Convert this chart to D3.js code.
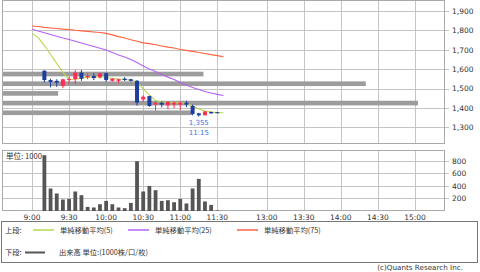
<!DOCTYPE html>
<html>
<head>
  <script src="https://d3js.org/d3.v7.min.js"></script>
  <style>
    body { margin: 0; background: #fff; }
    text { font-family: "DejaVu Sans", sans-serif; fill: #333; }
    .jp { font-family: "Noto Sans CJK JP", sans-serif; }
  </style>
</head>
<body>
  <div id="chart"></div>
  <script>
const width = 480;
const height = 272;

// 5分足 (9:10 - 11:30)
const candleTimes = ["9:10","9:15","9:20","9:25","9:30","9:35","9:40","9:45","9:50","9:55",
  "10:00","10:05","10:10","10:15","10:20","10:25","10:30","10:35","10:40","10:45",
  "10:50","10:55","11:00","11:05","11:10","11:15","11:20","11:25","11:30"];
const opens  = [1592,1544,1540,1513,1545,1548,1582,1558,1565,1558,1579,1540,1540,1551,1548,1540,1444,1461,1417,1427,1413,1417,1417,1427,1410,1372,1362,1379,1378];
const highs  = [1595,1551,1548,1550,1561,1596,1596,1579,1579,1582,1582,1554,1550,1558,1551,1544,1465,1463,1434,1434,1434,1434,1434,1437,1417,1375,1384,1382,1379];
const lows   = [1532,1506,1509,1502,1523,1524,1540,1548,1544,1551,1535,1536,1527,1539,1536,1412,1430,1406,1386,1403,1393,1399,1390,1404,1362,1355,1362,1370,1373];
const closes = [1544,1534,1530,1548,1549,1582,1551,1565,1554,1579,1544,1551,1548,1544,1540,1427,1458,1410,1427,1417,1431,1427,1427,1417,1369,1362,1382,1372,1375];
const volumes = [890,359,279,183,193,311,252,65,56,108,161,108,56,45,129,794,311,400,332,161,172,140,193,120,359,512,152,97,8];

// 移動平均 (9:00 から 5分ごと)
const ma5  = [1785,1763,1722,1677,1630,1583,1547,1549,1554,1559,1559,1561,1557,1553,1549,1547,1544,1534,1498,1467,1438,1430,1429,1428,1426,1424,1410,1394,1384,1379,1376,1375];
const ma25 = [1806,1797,1788,1779,1770,1761,1753,1744,1735,1726,1717,1708,1699,1686,1673,1663,1650,1635,1616,1601,1588,1572,1559,1547,1531,1518,1505,1495,1485,1477,1470,1464];
const ma75 = [1823,1820,1816,1813,1810,1807,1805,1801,1798,1795,1792,1789,1785,1777,1768,1761,1752,1744,1736,1732,1726,1720,1714,1709,1702,1697,1692,1686,1681,1675,1670,1664];

// 価格帯別出来高
const bandPrices = [1375, 1425, 1475, 1525, 1575];
const bandVolumes = [945, 2070, 275, 1810, 1000];

const xTicks = ["9:00","9:30","10:00","10:30","11:00","11:30","13:00","13:30","14:00","14:30","15:00"];
const priceTicks = [1300, 1400, 1500, 1600, 1700, 1800, 1900];
const volTicks = [200, 400, 600, 800];

const legendItems = [
  { label: "単純移動平均(5)", color: "#b6d94c" },
  { label: "単純移動平均(25)", color: "#b463f0" },
  { label: "単純移動平均(75)", color: "#ff6240" }
];

const plot = { left: 3, right: 444, top: 1, bottom: 143, vTop: 151, vBottom: 211 };

// 時刻 -> 5分スロット (昼休みは詰める)
function slotOf(t) {
  const [h, m] = t.split(":").map(Number);
  const min = h * 60 + m;
  return min <= 690 ? (min - 540) / 5 : 32 + (min - 750) / 5;
}

const x = d3.scaleLinear().domain([-4.7, 66.7]).range([plot.left, plot.right]);
const y = d3.scaleLinear().domain([1219, 1952]).range([plot.bottom, plot.top]);
const yv = d3.scaleLinear().domain([0, 957]).range([plot.vBottom, plot.vTop]);
const xb = d3.scaleLinear().domain([0, 2200]).range([plot.left, plot.right]);

const svg = d3.select("#chart").append("svg")
  .attr("width", width)
  .attr("height", height);

const grid = "#c4c4c4";
const frame = "#aaaaaa";

// ---- 上段 ----
const up = svg.append("g");
up.selectAll(".hg").data(priceTicks).join("line")
  .attr("x1", plot.left).attr("x2", plot.right + 5)
  .attr("y1", d => Math.round(y(d)) + 0.5).attr("y2", d => Math.round(y(d)) + 0.5)
  .attr("stroke", grid);
up.selectAll(".vg").data(xTicks).join("line")
  .attr("x1", d => Math.round(x(slotOf(d))) + 0.5).attr("x2", d => Math.round(x(slotOf(d))) + 0.5)
  .attr("y1", plot.top).attr("y2", plot.bottom)
  .attr("stroke", grid);
up.selectAll(".pl").data(priceTicks).join("text")
  .attr("x", 452).attr("y", d => y(d) + 2.8)
  .attr("font-size", "7.5px")
  .text(d => d3.format(",")(d));

// 価格帯別出来高バー
up.selectAll(".band").data(bandPrices).join("rect")
  .attr("x", plot.left)
  .attr("y", d => y(d + 12))
  .attr("width", (d, i) => xb(bandVolumes[i]) - plot.left)
  .attr("height", d => y(d - 12) - y(d + 12))
  .attr("fill", "#9c9c9c");

up.append("rect")
  .attr("x", plot.left - 0.5).attr("y", plot.top - 0.5)
  .attr("width", plot.right - plot.left + 1).attr("height", plot.bottom - plot.top + 1)
  .attr("fill", "none").attr("stroke", frame);

// 移動平均
[ma5, ma25, ma75].forEach((ma, k) => {
  up.append("path")
    .datum(ma)
    .attr("fill", "none")
    .attr("stroke", legendItems[k].color)
    .attr("stroke-width", 1.1)
    .attr("d", d3.line().x((d, i) => x(i)).y(d => y(d)));
});

// ローソク足
const red = "#ff2d55";
const blue = "#1f3d9c";
const candles = up.selectAll(".candle").data(candleTimes).join("g");
candles.append("line")
  .attr("x1", d => x(slotOf(d))).attr("x2", d => x(slotOf(d)))
  .attr("y1", (d, i) => y(highs[i])).attr("y2", (d, i) => y(lows[i]))
  .attr("stroke", (d, i) => closes[i] >= opens[i] ? red : blue);
candles.append("rect")
  .attr("x", d => x(slotOf(d)) - 2)
  .attr("y", (d, i) => y(Math.max(opens[i], closes[i])))
  .attr("width", 4)
  .attr("height", (d, i) => Math.max(1, y(Math.min(opens[i], closes[i])) - y(Math.max(opens[i], closes[i]))))
  .attr("fill", (d, i) => closes[i] >= opens[i] ? red : blue);

// 安値ラベル
const lowIdx = d3.minIndex(lows);
up.append("text")
  .attr("x", x(slotOf(candleTimes[lowIdx]))).attr("y", y(lows[lowIdx]) + 8.5)
  .attr("text-anchor", "middle").attr("font-size", "7px")
  .style("fill", "#3b6fdc")
  .text(d3.format(",")(lows[lowIdx]));
up.append("text")
  .attr("x", x(slotOf(candleTimes[lowIdx]))).attr("y", y(lows[lowIdx]) + 18.5)
  .attr("text-anchor", "middle").attr("font-size", "7px")
  .style("fill", "#3b6fdc")
  .text(candleTimes[lowIdx]);

// ---- 下段 ----
const lo = svg.append("g");
lo.selectAll(".hg").data(volTicks).join("line")
  .attr("x1", plot.left).attr("x2", plot.right + 5)
  .attr("y1", d => Math.round(yv(d)) + 0.5).attr("y2", d => Math.round(yv(d)) + 0.5)
  .attr("stroke", grid);
lo.selectAll(".vg").data(xTicks).join("line")
  .attr("x1", d => Math.round(x(slotOf(d))) + 0.5).attr("x2", d => Math.round(x(slotOf(d))) + 0.5)
  .attr("y1", plot.vTop).attr("y2", plot.vBottom)
  .attr("stroke", grid);
lo.append("rect")
  .attr("x", plot.left - 0.5).attr("y", plot.vTop - 0.5)
  .attr("width", plot.right - plot.left + 1).attr("height", plot.vBottom - plot.vTop)
  .attr("fill", "none").attr("stroke", frame);
lo.selectAll(".vl").data(volTicks).join("text")
  .attr("x", 452).attr("y", d => yv(d) + 2.8)
  .attr("font-size", "7.5px")
  .text(d => d);

lo.append("text")
  .attr("class", "jp")
  .attr("x", 6).attr("y", 158.5)
  .attr("font-size", "7.6px")
  .text("単位: 1000");

lo.selectAll(".vol").data(candleTimes).join("rect")
  .attr("x", d => x(slotOf(d)) - 1.9)
  .attr("y", (d, i) => yv(volumes[i]))
  .attr("width", 3.8)
  .attr("height", (d, i) => yv(0) - yv(volumes[i]))
  .attr("fill", "#555");

svg.selectAll(".xl").data(xTicks).join("text")
  .attr("x", d => x(slotOf(d)))
  .attr("y", 220)
  .attr("text-anchor", "middle")
  .attr("font-size", "7.5px")
  .text(d => d);

// ---- 凡例 ----
const lg = svg.append("g");
lg.append("rect")
  .attr("x", 1.5).attr("y", 221.5)
  .attr("width", 476).attr("height", 41)
  .attr("fill", "none").attr("stroke", "#777");
lg.append("text").attr("class", "jp").attr("x", 5).attr("y", 232.5).attr("font-size", "7.3px").text("上段:");
const lineX = [33, 128, 237];
legendItems.forEach((it, i) => {
  lg.append("line")
    .attr("x1", lineX[i]).attr("x2", lineX[i] + 21)
    .attr("y1", 230).attr("y2", 230)
    .attr("stroke", it.color).attr("stroke-width", 1.5);
  lg.append("text").attr("class", "jp")
    .attr("x", lineX[i] + 27).attr("y", 232.5)
    .attr("font-size", "7.3px")
    .text(it.label);
});
lg.append("text").attr("class", "jp").attr("x", 5).attr("y", 255).attr("font-size", "7.3px").text("下段:");
lg.append("line")
  .attr("x1", 25).attr("x2", 45).attr("y1", 252.5).attr("y2", 252.5)
  .attr("stroke", "#555").attr("stroke-width", 2);
lg.append("text").attr("class", "jp").attr("x", 59).attr("y", 255).attr("font-size", "7.3px")
  .text("出来高 単位:(1000株/口/枚)");

svg.append("text")
  .attr("x", 463).attr("y", 270)
  .attr("text-anchor", "end")
  .attr("font-size", "7.2px")
  .text("(c)Quants Research Inc.");
  </script>
</body>
</html>
